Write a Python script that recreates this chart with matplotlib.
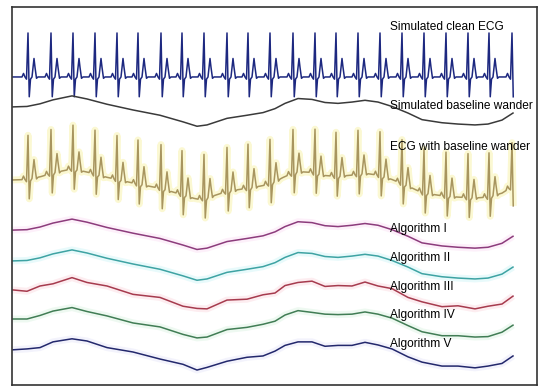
import numpy as np
import matplotlib
matplotlib.use("Agg")
import matplotlib.pyplot as plt

plt.rcParams['font.family'] = ['Liberation Sans', 'DejaVu Sans']

# R-peak times of the simulated ECG (s)
r_times = [0.30, 0.76, 1.20, 1.64, 2.08, 2.50, 2.96, 3.38, 3.82, 4.28, 4.70, 5.14,
           5.60, 6.04, 6.46, 6.90, 7.34, 7.78, 8.22, 8.66, 9.10, 9.52, 9.98]
# one beat (P, Q, R, S, T) relative to the R peak: time offset (s) and amplitude (mV)
beat_dt = [-0.20, -0.12, -0.09, -0.06, -0.03, 0.0, 0.025, 0.05, 0.08, 0.10, 0.12, 0.14, 0.17, 0.20]
beat_mv = [0.0, 0.0, 0.08, 0.0, -0.05, 1.0, -0.45, -0.05, 0.0, 0.22, 0.42, 0.22, -0.03, 0.0]

# simulated baseline wander (s, mV)
wander_t = [0, 0.28, 0.54, 0.80, 1.18, 1.48, 1.88, 2.40, 2.94, 3.40, 3.68, 3.88, 4.28, 4.68,
            5.00, 5.24, 5.44, 5.70, 5.98, 6.24, 6.50, 6.78, 7.04, 7.30, 7.58, 7.90, 8.18,
            8.58, 8.90, 9.24, 9.50, 9.78, 10.00]
wander_mv = [0, 0.01, 0.07, 0.16, 0.25, 0.18, 0.06, -0.07, -0.19, -0.34, -0.44, -0.41, -0.26,
             -0.19, -0.13, -0.04, 0.08, 0.19, 0.17, 0.10, 0.08, 0.11, 0.15, 0.11, 0.01,
             -0.14, -0.29, -0.36, -0.39, -0.41, -0.39, -0.30, -0.14]

# small residual ripple left in each algorithm's estimate (mV, at wander_t)
resid_1 = [0.0] * 33
resid_2 = [0.0] * 33
resid_3 = [0, -0.04, 0.02, -0.02, 0.03, -0.01, 0.03, -0.03, 0.02, -0.03, 0.02, -0.02, 0.03,
           -0.02, 0.02, -0.03, 0.02, -0.02, 0.03, -0.02, 0.02, -0.02, 0.03, -0.02, 0.02,
           -0.03, 0.02, -0.02, 0.03, -0.02, 0.02, -0.02, 0]
resid_4 = [0, -0.01, 0.01, 0.02, 0.01, -0.01, 0.01, -0.02, 0.01, -0.01, 0.01, 0.0, 0.02,
           0.0, 0.01, -0.01, 0.01, 0.0, -0.02, 0.01, 0.02, 0.0, 0.01, 0.0, 0.01,
           -0.01, 0.0, -0.02, 0.01, 0.0, -0.01, 0.0, 0]
resid_5 = [0, 0.01, -0.02, 0.02, 0.0, 0.02, -0.01, 0.02, -0.02, 0.01, -0.02, 0.01, 0.0,
           0.02, -0.01, 0.01, 0.02, -0.01, 0.01, -0.02, 0.02, -0.01, 0.02, 0.0, 0.01,
           -0.02, 0.01, -0.01, 0.02, 0.0, 0.02, -0.01, 0]

labels = ['Simulated clean ECG', 'Simulated baseline wander', 'ECG with baseline wander',
          'Algorithm I', 'Algorithm II', 'Algorithm III', 'Algorithm IV', 'Algorithm V']

# build the clean ECG from the beats
t_ecg = [0.0]
v_ecg = [0.0]
for r in r_times:
    for dt, v in zip(beat_dt, beat_mv):
        t = r + dt
        if t > t_ecg[-1] and t <= 10.02:
            t_ecg.append(t)
            v_ecg.append(v)
t_ecg = np.array(t_ecg)
v_ecg = np.array(v_ecg)
w_t = np.array(wander_t)
w_v = np.array(wander_mv)
v_noisy = v_ecg + np.interp(t_ecg, w_t, w_v)

fig = plt.figure(figsize=(5.5, 3.91), dpi=100)
ax = fig.add_axes([12 / 550, 6 / 391, 525 / 550, 378 / 391])
ax.set_xlim(-0.02, 10.48)
ax.set_ylim(0, 8.59)

# (offset, line colour, halo colour)
traces = [
    (7.00, '#1d2880', None),
    (6.32, '#3a3a3a', None),
    (4.66, '#a8955f', '#fbf8d2'),
    (3.52, '#8c3c7c', '#fdf0fa'),
    (2.82, '#3ea3a3', '#e8fafb'),
    (2.16, '#a63b4e', '#fdedf0'),
    (1.50, '#417d55', '#eef9f1'),
    (0.80, '#23286c', '#f3f3fc'),
]
label_y = [8.14, 6.34, 5.41, 3.55, 2.89, 2.23, 1.59, 0.93]

series = [
    (t_ecg, v_ecg),
    (w_t, w_v),
    (t_ecg, v_noisy),
    (w_t, w_v + np.array(resid_1)),
    (w_t, w_v + np.array(resid_2)),
    (w_t, w_v + np.array(resid_3)),
    (w_t, w_v + np.array(resid_4)),
    (w_t, w_v + np.array(resid_5)),
]

for (x, y), (off, col, halo) in zip(series, traces):
    if halo is not None:
        ax.plot(x, y + off, color=halo, lw=5, solid_capstyle='butt', zorder=1)
    ax.plot(x, y + off, color=col, lw=1.1, zorder=2)

for lab, ly in zip(labels, label_y):
    ax.text(7.54, ly, lab, fontsize=8.6, ha='left', va='center', color='black', zorder=3)

ax.set_xticks([])
ax.set_yticks([])
for s in ax.spines.values():
    s.set_color('#333333')
    s.set_linewidth(1.2)

fig.savefig('out.png', dpi=100)
